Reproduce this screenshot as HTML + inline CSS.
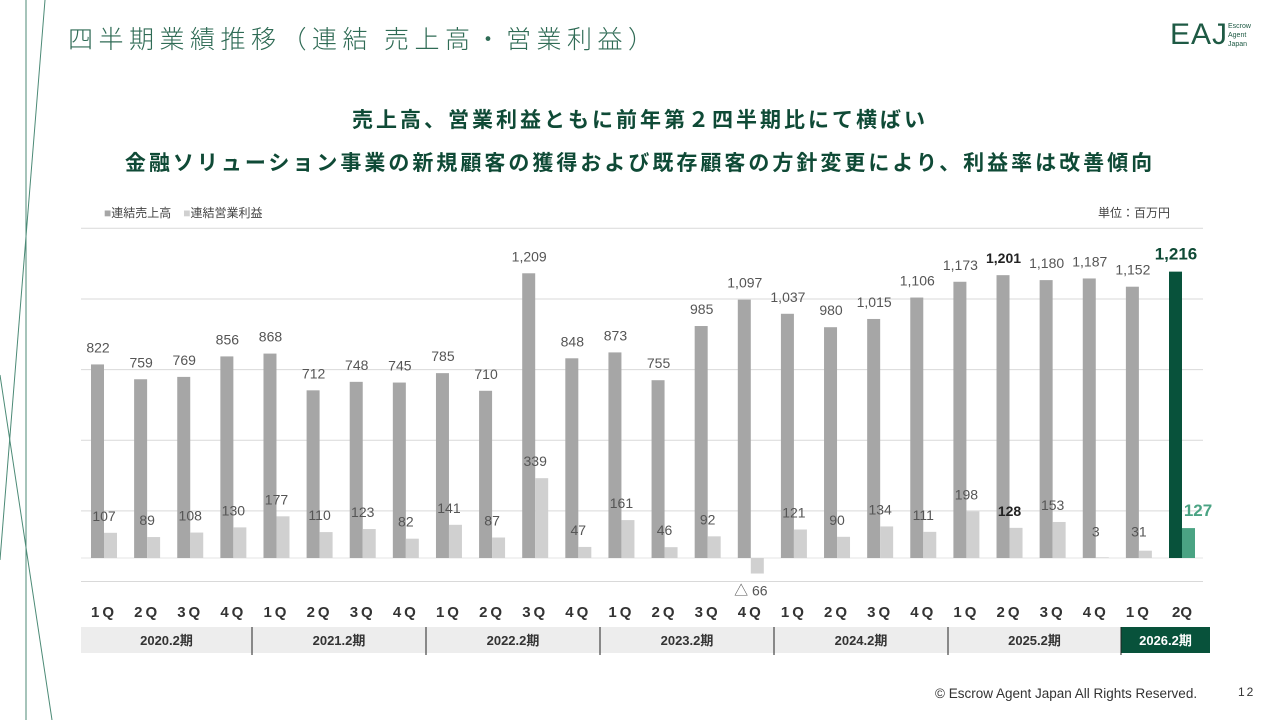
<!DOCTYPE html>
<html><head><meta charset="utf-8"><style>
body{margin:0;width:1280px;height:720px;background:#fff;overflow:hidden;position:relative;font-family:"Liberation Sans","Noto Sans CJK JP",sans-serif}
.a{position:absolute}
</style></head><body>
<svg class="a" style="left:0;top:0" width="1280" height="720">
<line x1="26" y1="0" x2="26" y2="720" stroke="#4c8a76" stroke-width="1"/>
<line x1="45" y1="0" x2="0" y2="560" stroke="#4c8a76" stroke-width="1"/>
<line x1="0" y1="375" x2="52" y2="720" stroke="#4c8a76" stroke-width="1"/>
</svg>
<div class="a" style="left:68px;top:20px;font-size:25px;letter-spacing:5.5px;color:#2f6b55;font-family:'Noto Sans CJK JP',sans-serif;font-weight:300">四半期業績推移（連結 売上高・営業利益）</div>
<div class="a" style="left:1170px;top:18px;font-size:30px;color:#1e5a44;font-family:'Liberation Sans',sans-serif;letter-spacing:1px">EAJ</div>
<div class="a" style="left:1228px;top:22px;font-size:7px;line-height:9px;color:#1e5a44">Escrow<br>Agent<br>Japan</div>
<div class="a" style="left:0;width:1280px;top:104px;text-align:center;font-size:21px;letter-spacing:3px;font-weight:bold;color:#0f4a36;font-family:'Noto Sans CJK JP',sans-serif">売上高、営業利益ともに前年第２四半期比にて横ばい</div>
<div class="a" style="left:0;width:1280px;top:147px;text-align:center;font-size:21px;letter-spacing:3px;font-weight:bold;color:#0f4a36;font-family:'Noto Sans CJK JP',sans-serif">金融ソリューション事業の新規顧客の獲得および既存顧客の方針変更により、利益率は改善傾向</div>
<div class="a" style="left:104px;top:204px;font-size:12px;color:#444"><span style="color:#a6a6a6">■</span>連結売上高　<span style="color:#d0d0d0">■</span>連結営業利益</div>
<div class="a" style="left:1098px;top:204px;font-size:12px;color:#444">単位：百万円</div>
<svg id="chart" class="a" style="left:0;top:0" width="1280" height="720"></svg>
<div class="a" style="left:935px;top:686px;font-size:13.5px;color:#333">© Escrow Agent Japan All Rights Reserved.</div>
<div class="a" style="left:1238px;top:685px;font-size:12px;color:#333;letter-spacing:2px">12</div>
<script>
const quarterLabels=["1Q","2Q","3Q","4Q","1Q","2Q","3Q","4Q","1Q","2Q","3Q","4Q","1Q","2Q","3Q","4Q","1Q","2Q","3Q","4Q","1Q","2Q","3Q","4Q","1Q","2Q"];
const salesVals=[822,759,769,856,868,712,748,745,785,710,1209,848,873,755,985,1097,1037,980,1015,1106,1173,1201,1180,1187,1152,1216];
const profitVals=[107,89,108,130,177,110,123,82,141,87,339,47,161,46,92,-66,121,90,134,111,198,128,153,3,31,127];
const periods=["2020.2期","2021.2期","2022.2期","2023.2期","2024.2期","2025.2期","2026.2期"];
const gridTicks=[-100,200,500,800,1100,1400];
const svg=document.getElementById('chart');
const NS='http://www.w3.org/2000/svg';
const n=salesVals.length;
const y=v=>558-v*0.2355;
const cx=i=>104+i*(1182-104)/(n-1);
function el(t,a,txt){const e=document.createElementNS(NS,t);for(const k in a)e.setAttribute(k,a[k]);if(txt!=null)e.textContent=txt;svg.appendChild(e);return e;}
gridTicks.forEach(t=>{const g=el('line',{x1:81,x2:1203,y1:y(t),y2:y(t),stroke:'#d9d9d9','stroke-width':1});

});
const bl=el('line',{x1:81,x2:1203,y1:558,y2:558,stroke:'#e6e6e6','stroke-width':1});


for(let i=0;i<n;i++){
 const last=i===n-1, c=cx(i);
 const s=salesVals[i], p=profitVals[i];
 const b=el('rect',{x:c-13,y:y(s),width:13,height:558-y(s),fill:last?'#08523b':'#a6a6a6'});
 
 
 const py=p>=0?y(p):558, ph=Math.abs(y(p)-558);
 const pb=el('rect',{x:c,y:py,width:13,height:ph,fill:last?'#4aa383':'#d0d0d0'});
 
 
 const bold=(i===n-5||last);
 const st=el('text',{x:c-6,y:y(s)-12,'text-anchor':'middle','font-size':last?17:14,'font-weight':bold?'bold':'normal',fill:last?'#0f4a36':(bold?'#222':'#555')},s.toLocaleString('en-US'));
 
 
 const txt=p<0?'△ '+Math.abs(p):String(p);
 const ty=p<0?y(p)+22:(last?y(p)-12:Math.min(y(p),y(40))-12);
 const pt=el('text',{x:last?c+16:c,y:ty,'text-anchor':'middle','font-size':last?17:14,'font-weight':bold?'bold':'normal',fill:last?'#4aa383':(bold?'#222':'#555')},txt);
 
 
 const ql2=el('text',{x:c,y:617,'text-anchor':'middle','font-size':15,'font-weight':'bold',fill:'#333','letter-spacing':last?0:3},quarterLabels[i]);
 
 
}
const edges=[81,252,426,600,774,948,1121,1210];
for(let k=0;k<periods.length;k++){
 const last=k===periods.length-1;
 const r=el('rect',{x:edges[k],y:627,width:edges[k+1]-edges[k],height:26,fill:last?'#08523b':'#ededed'});
 
 
 if(k>0){const d=el('line',{x1:edges[k],x2:edges[k],y1:627,y2:655,stroke:'#222','stroke-width':1});
 
 }
 const t=el('text',{x:(edges[k]+edges[k+1])/2,y:645,'text-anchor':'middle','font-size':13,'font-weight':'bold',fill:last?'#fff':'#333'},periods[k]);
 
 
}
</script>
</body></html>
